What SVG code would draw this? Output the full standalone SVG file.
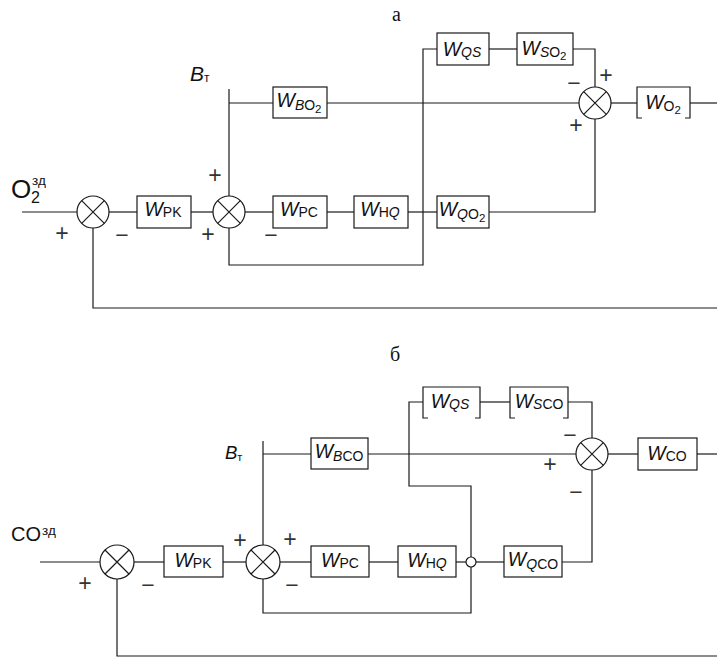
<svg xmlns="http://www.w3.org/2000/svg" width="717" height="659" viewBox="0 0 717 659">
<style>
  .ln { fill: none; stroke: #1a1a1a; stroke-width: 1.2; }
  .box { fill: #fff; stroke: #1a1a1a; stroke-width: 1.2; }
  .sum { fill: #fff; stroke: #1a1a1a; stroke-width: 1.2; }
  .w { font-family: "Liberation Sans", Arial, sans-serif; font-size: 19.5px; font-style: italic; fill: #111; }
  .s { font-size: 14px; }
  .u { font-style: normal; }
  .d { font-size: 11.5px; font-style: normal; }
  .sg { font-family: "Liberation Sans", Arial, sans-serif; font-size: 23px; fill: #333; text-anchor: middle; }
  .lab { font-family: "Liberation Sans", Arial, sans-serif; fill: #111; }
  .ser { font-family: "Liberation Serif", "Times New Roman", serif; font-size: 20px; fill: #111; }
</style>
<defs>
  <g id="x16"><circle class="sum" r="16"/><path class="ln" d="M-11.3,-11.3 L11.3,11.3 M11.3,-11.3 L-11.3,11.3"/></g>
  <g id="x17"><circle class="sum" r="17"/><path class="ln" d="M-12,-12 L12,12 M12,-12 L-12,12"/></g>
</defs>

<g id="connectors">
  <!-- top diagram -->
  <path class="ln" d="M22,212 H77"/>
  <path class="ln" d="M109,212 H137"/>
  <path class="ln" d="M191,212 H213"/>
  <path class="ln" d="M245,212 H273"/>
  <path class="ln" d="M327,212 H354"/>
  <path class="ln" d="M408,212 H437"/>
  <path class="ln" d="M489,212 H595 V119"/>
  <path class="ln" d="M229,89 V196"/>
  <path class="ln" d="M229,103 H273"/>
  <path class="ln" d="M327,103 H579"/>
  <path class="ln" d="M229,228 V265 H423 V49 H437"/>
  <path class="ln" d="M489,49 H517"/>
  <path class="ln" d="M573,49 H595 V87"/>
  <path class="ln" d="M611,103 H637"/>
  <path class="ln" d="M690,103 H717"/>
  <path class="ln" d="M93,228 V308 H717"/>
  <!-- bottom diagram -->
  <path class="ln" d="M40,562 H100"/>
  <path class="ln" d="M134,562 H164"/>
  <path class="ln" d="M223,562 H246"/>
  <path class="ln" d="M280,562 H311"/>
  <path class="ln" d="M369,562 H398"/>
  <path class="ln" d="M456,562 H466"/>
  <path class="ln" d="M476,562 H504"/>
  <path class="ln" d="M562,562 H592 V470"/>
  <path class="ln" d="M263,441 V545"/>
  <path class="ln" d="M263,454 H311"/>
  <path class="ln" d="M368,454 H576"/>
  <path class="ln" d="M263,579 V613 H471 V567"/>
  <path class="ln" d="M471,557 V486 H409 V402 H423"/>
  <path class="ln" d="M480,402 H510"/>
  <path class="ln" d="M568,402 H592 V438"/>
  <path class="ln" d="M608,454 H638"/>
  <path class="ln" d="M697,454 H717"/>
  <path class="ln" d="M117,579 V656 H717"/>
  <circle class="sum" cx="471" cy="562" r="5"/>
</g>

<!-- titles and inputs -->
<g id="labels">
  <text class="ser" x="392" y="21">а</text>
  <text class="ser" x="390" y="361">б</text>
  <text class="lab" x="11" y="198" font-size="26">O</text>
  <text class="lab" x="31" y="203" font-size="16">2</text>
  <text class="lab" x="32" y="185" font-size="13.5">зд</text>
  <text class="lab" x="11" y="541" font-size="20">CO</text>
  <text class="lab" x="42" y="535" font-size="13.5">зд</text>
  <text class="lab" x="190" y="81" font-size="21" font-style="italic">B<tspan font-style="normal" font-size="12" dy="1">т</tspan></text>
  <text class="lab" x="225" y="459" font-size="18.5" font-style="italic">B<tspan font-style="normal" font-size="11" dy="2">т</tspan></text>
</g>

<!-- signs -->
<g id="signs">
  <text class="sg" x="62" y="241">+</text>
  <text class="sg" x="122" y="243">−</text>
  <text class="sg" x="215" y="183">+</text>
  <text class="sg" x="208" y="242">+</text>
  <text class="sg" x="271" y="243">−</text>
  <text class="sg" x="606" y="83">+</text>
  <text class="sg" x="574" y="91">−</text>
  <text class="sg" x="576" y="133">+</text>
  <text class="sg" x="85" y="591">+</text>
  <text class="sg" x="148" y="593">−</text>
  <text class="sg" x="240" y="548">+</text>
  <text class="sg" x="290" y="547">+</text>
  <text class="sg" x="292" y="593">−</text>
  <text class="sg" x="570" y="443">−</text>
  <text class="sg" x="550" y="472">+</text>
  <text class="sg" x="576" y="500">−</text>
</g>

<!-- top diagram nodes -->
<g id="sum1a"><use href="#x16" x="93" y="212"/></g>
<g id="sum2a"><use href="#x16" x="229" y="212"/></g>
<g id="sum3a"><use href="#x16" x="595" y="103"/></g>

<g id="WPKa"><rect class="box" x="137" y="196" width="54" height="32"/>
  <text class="w" x="163" y="216" text-anchor="middle">W<tspan class="s u" dy="1">PK</tspan></text></g>
<g id="WPCa"><rect class="box" x="273" y="196" width="54" height="32"/>
  <text class="w" x="299" y="216" text-anchor="middle">W<tspan class="s u" dy="1">PC</tspan></text></g>
<g id="WHQa"><rect class="box" x="354" y="196" width="54" height="32"/>
  <text class="w" x="380" y="216" text-anchor="middle">W<tspan class="s u" dy="1">H</tspan><tspan class="s">Q</tspan></text></g>
<g id="WQO2a"><rect class="box" x="437" y="196" width="52" height="32"/>
  <text class="w" x="462" y="216" text-anchor="middle">W<tspan class="s" dy="3">Q</tspan><tspan class="s u">O</tspan><tspan class="d" dy="3">2</tspan></text></g>
<g id="WBO2a"><rect class="box" x="273" y="87" width="54" height="31"/>
  <text class="w" x="299" y="107" text-anchor="middle">W<tspan class="s" dy="3">B</tspan><tspan class="s u">O</tspan><tspan class="d" dy="3">2</tspan></text></g>
<g id="WQSa"><rect class="box" x="437" y="33" width="52" height="32"/>
  <text class="w" x="462" y="56" text-anchor="middle">W<tspan class="s" dy="1">QS</tspan></text></g>
<g id="WSO2a"><rect class="box" x="517" y="33" width="56" height="32"/>
  <text class="w" x="544" y="55" text-anchor="middle">W<tspan class="s" dy="2">S</tspan><tspan class="s u">O</tspan><tspan class="d" dy="3">2</tspan></text></g>
<g id="WO2a"><rect x="637" y="87" width="53" height="31" fill="#fff"/>
  <path class="ln" d="M642,118 H637 V87 H690 V118 H685"/>
  <text class="w" x="663" y="109" text-anchor="middle">W<tspan class="s u" dy="2">O</tspan><tspan class="d" dy="3">2</tspan></text></g>

<!-- bottom diagram nodes -->
<g id="sum1b"><use href="#x17" x="117" y="562"/></g>
<g id="sum2b"><use href="#x17" x="263" y="562"/></g>
<g id="sum3b"><use href="#x16" x="592" y="454"/></g>

<g id="WPKb"><rect class="box" x="164" y="546" width="59" height="31"/>
  <text class="w" x="193" y="567" text-anchor="middle">W<tspan class="s u" dy="1">PK</tspan></text></g>
<g id="WPCb"><rect class="box" x="311" y="546" width="58" height="31"/>
  <text class="w" x="340" y="567" text-anchor="middle">W<tspan class="s u" dy="1">PC</tspan></text></g>
<g id="WHQb"><rect class="box" x="398" y="546" width="58" height="31"/>
  <text class="w" x="427" y="567" text-anchor="middle">W<tspan class="s u" dy="1">H</tspan><tspan class="s">Q</tspan></text></g>
<g id="WQCOb"><rect class="box" x="504" y="546" width="58" height="31"/>
  <text class="w" x="533" y="566" text-anchor="middle">W<tspan class="s" dy="3">Q</tspan><tspan class="s u">CO</tspan></text></g>
<g id="WBCOb"><rect class="box" x="311" y="438" width="57" height="31"/>
  <text class="w" x="339" y="458" text-anchor="middle">W<tspan class="s" dy="3">B</tspan><tspan class="s u">CO</tspan></text></g>
<g id="WQSb"><rect x="423" y="387" width="57" height="31" fill="#fff"/>
  <path class="ln" d="M428,418 H423 V387 H480 V418 H475"/>
  <text class="w" x="450" y="408" text-anchor="middle">W<tspan class="s" dy="1">QS</tspan></text></g>
<g id="WSCOb"><rect x="510" y="387" width="58" height="31" fill="#fff"/>
  <path class="ln" d="M515,418 H510 V387 H568 V418 H563"/>
  <text class="w" x="539" y="408" text-anchor="middle">W<tspan class="s" dy="1">S</tspan><tspan class="s u">CO</tspan></text></g>
<g id="WCOb"><rect class="box" x="638" y="438" width="59" height="32"/>
  <text class="w" x="667" y="460" text-anchor="middle">W<tspan class="s u" dy="1">CO</tspan></text></g>
</svg>
